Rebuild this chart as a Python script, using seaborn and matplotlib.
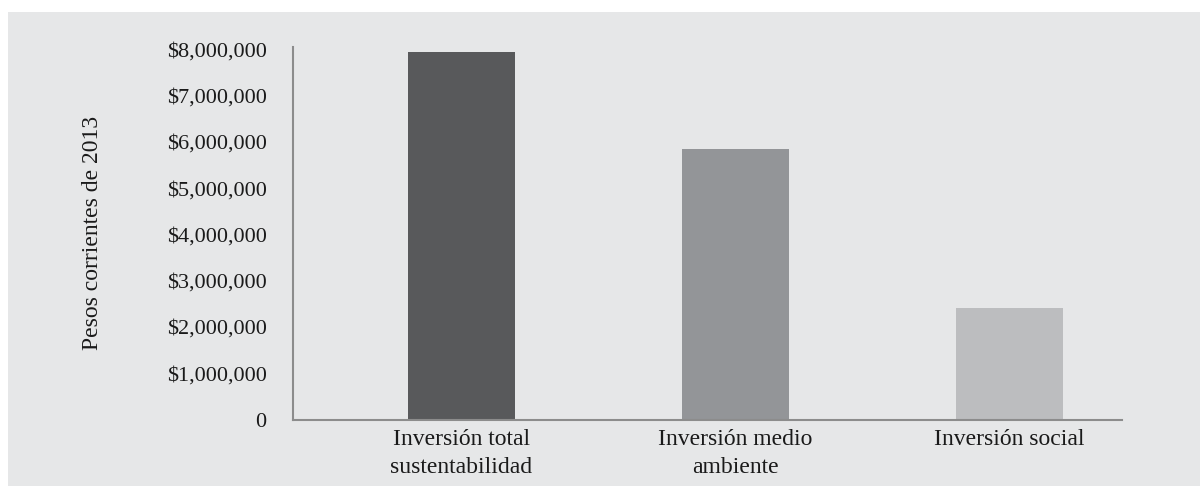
import matplotlib
matplotlib.use("Agg")
import matplotlib.pyplot as plt
import seaborn as sns
import pandas as pd
from matplotlib.patches import Rectangle
from matplotlib.ticker import FuncFormatter

categories = ["Inversión total\nsustentabilidad", "Inversión medio\nambiente", "Inversión social"]
values = [7940000, 5840000, 2400000]
bar_colors = ["#58595b", "#939598", "#bcbdbf"]
y_ticks = [0, 1000000, 2000000, 3000000, 4000000, 5000000, 6000000, 7000000, 8000000]

df = pd.DataFrame({"categoria": categories, "valor": values})

sns.set_style("white")
plt.rcParams["font.family"] = ["Liberation Serif", "DejaVu Serif"]

fig = plt.figure(figsize=(12, 4.86), dpi=100)
fig.patch.set_facecolor("white")
# gray panel behind the chart
fig.patches.append(Rectangle((8 / 1200, 0), 1 - 8 / 1200, 1 - 12 / 486,
                             transform=fig.transFigure, facecolor="#e6e7e8",
                             edgecolor="none", zorder=-10))

ax = fig.add_axes([293 / 1200, 1 - 419.5 / 486, (1122 - 293) / 1200, (419.5 - 47) / 486])
ax.set_facecolor("none")

sns.barplot(data=df, x="categoria", y="valor", hue="categoria", palette=bar_colors,
            width=0.39, legend=False, ax=ax, saturation=1, linewidth=0, edgecolor="none")

ax.set_xlim(-0.614, 2.41)
ax.set_ylim(0, 8050000)
ax.set_yticks(y_ticks)
ax.yaxis.set_major_formatter(FuncFormatter(lambda v, p: "0" if v == 0 else f"${v:,.0f}"))

for s in ["top", "right"]:
    ax.spines[s].set_visible(False)
for s in ["left", "bottom"]:
    ax.spines[s].set_color("#8c8c8c")
    ax.spines[s].set_linewidth(1.5)

ax.tick_params(axis="both", length=0, colors="#1a1a1a")
ax.tick_params(axis="y", pad=19, labelsize=16)
ax.tick_params(axis="x", pad=7, labelsize=17)
for lbl in ax.get_xticklabels():
    lbl.set_linespacing(1.42)
    lbl.set_verticalalignment("top")

ax.set_xlabel("")
ax.set_ylabel("Pesos corrientes de 2013", fontsize=17, color="#1a1a1a", labelpad=46)

fig.savefig("out.png", dpi=100)
